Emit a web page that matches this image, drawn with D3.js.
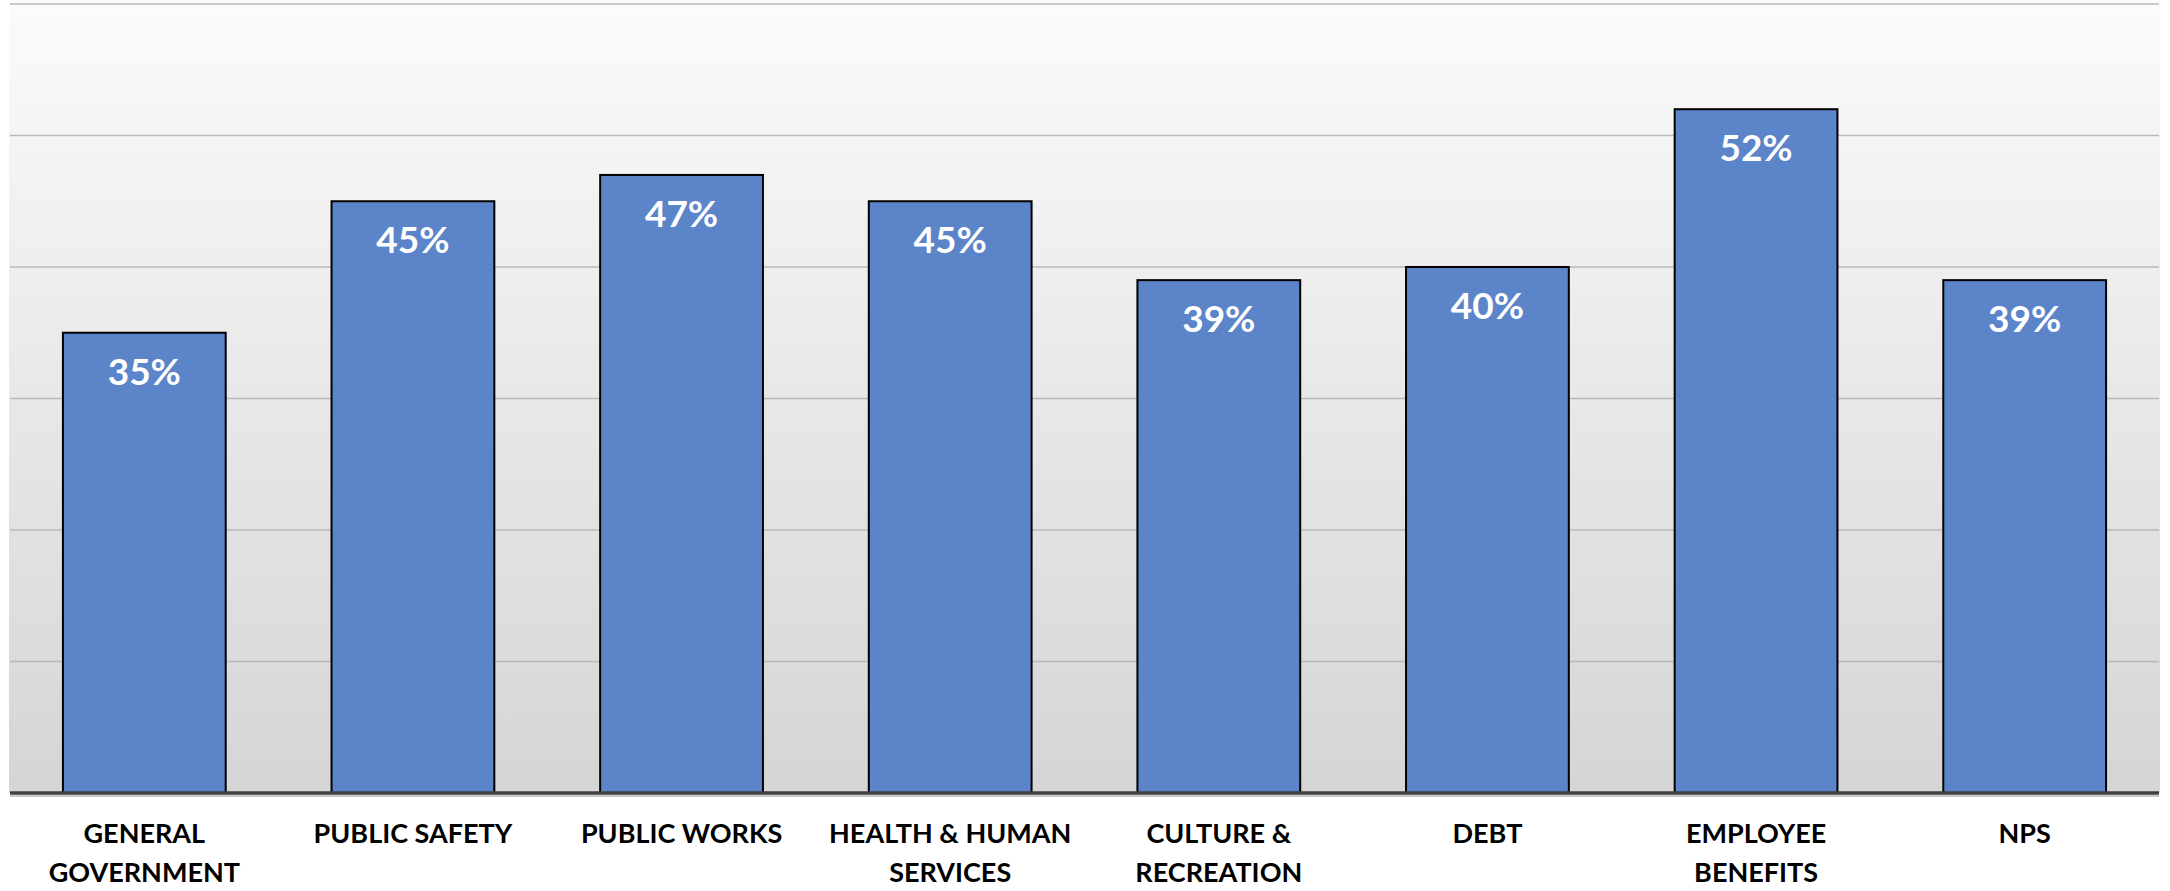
<!DOCTYPE html>
<html><head><meta charset="utf-8">
<script src="https://cdn.jsdelivr.net/npm/d3@7"></script>
<style>html,body{margin:0;padding:0;background:#fff;overflow:hidden}</style>
</head><body>
<svg id="chart" width="2170" height="891"></svg>
<script>
const categories = [["GENERAL","GOVERNMENT"],["PUBLIC SAFETY"],["PUBLIC WORKS"],["HEALTH & HUMAN","SERVICES"],["CULTURE &","RECREATION"],["DEBT"],["EMPLOYEE","BENEFITS"],["NPS"]];
const values = [35, 45, 47, 45, 39, 40, 52, 39];
const gridTicks = [0, 10, 20, 30, 40, 50, 60];

const svg = d3.select("#chart");
const m = {left: 10, right: 11, top: 4, bottom: 98};
const W = 2170, H = 891;
const iw = W - m.left - m.right, ih = H - m.top - m.bottom;

const defs = svg.append("defs");
const grad = defs.append("linearGradient").attr("id","bg").attr("x1",0).attr("y1",0).attr("x2",0).attr("y2",1);
grad.append("stop").attr("offset","0%").attr("stop-color","#fbfbfb");
grad.append("stop").attr("offset","100%").attr("stop-color","#d5d5d5");

const g = svg.append("g").attr("transform",`translate(${m.left},${m.top})`);
g.append("rect").attr("x",-1).attr("y",-4).attr("width",iw+2).attr("height",ih+4).attr("fill","url(#bg)");

const x = d3.scaleBand().domain(d3.range(values.length)).range([0, iw]).paddingInner(0.394).paddingOuter(0.197);
const y = d3.scaleLinear().domain([0, 60]).range([ih, 0]);

// gridlines
g.append("g").selectAll("line").data(gridTicks.slice(1)).join("line")
  .attr("x1",0).attr("x2",iw).attr("y1",d=>y(d)).attr("y2",d=>y(d))
  .attr("stroke","#b8b8b8").attr("stroke-width",1.5);

// bars
g.append("g").selectAll("rect").data(values).join("rect")
  .attr("x",(d,i)=>x(i)).attr("width",x.bandwidth())
  .attr("y",d=>y(d)).attr("height",d=>ih-y(d))
  .attr("fill","#5b84c9").attr("stroke","#000").attr("stroke-width",2);

// value labels
g.append("g").selectAll("text").data(values).join("text")
  .attr("x",(d,i)=>x(i)+x.bandwidth()/2).attr("y",d=>y(d)+52)
  .attr("text-anchor","middle").attr("fill","#fff")
  .style("font-family","Lato, 'Liberation Sans', sans-serif").style("font-weight","bold").style("font-size","37px")
  .text(d=>d+"%");

// baseline
g.append("line").attr("x1",0).attr("x2",iw).attr("y1",ih+3).attr("y2",ih+3).attr("stroke","#c8c8c8").attr("stroke-width",2);
g.append("line").attr("x1",0).attr("x2",iw).attr("y1",ih).attr("y2",ih).attr("stroke","#404040").attr("stroke-width",3.5);

// category labels
const cl = g.append("g").selectAll("text").data(categories).join("text")
  .attr("x",(d,i)=>x(i)+x.bandwidth()/2).attr("y",ih+50)
  .attr("text-anchor","middle").attr("fill","#000")
  .style("font-family","Lato, 'Liberation Sans', sans-serif").style("font-weight","bold").style("font-size","27px");
cl.selectAll("tspan").data(d=>d).join("tspan")
  .attr("x",function(){return d3.select(this.parentNode).attr("x");})
  .attr("dy",(d,i)=>i===0?0:38.5).text(d=>d);
</script>
</body></html>
